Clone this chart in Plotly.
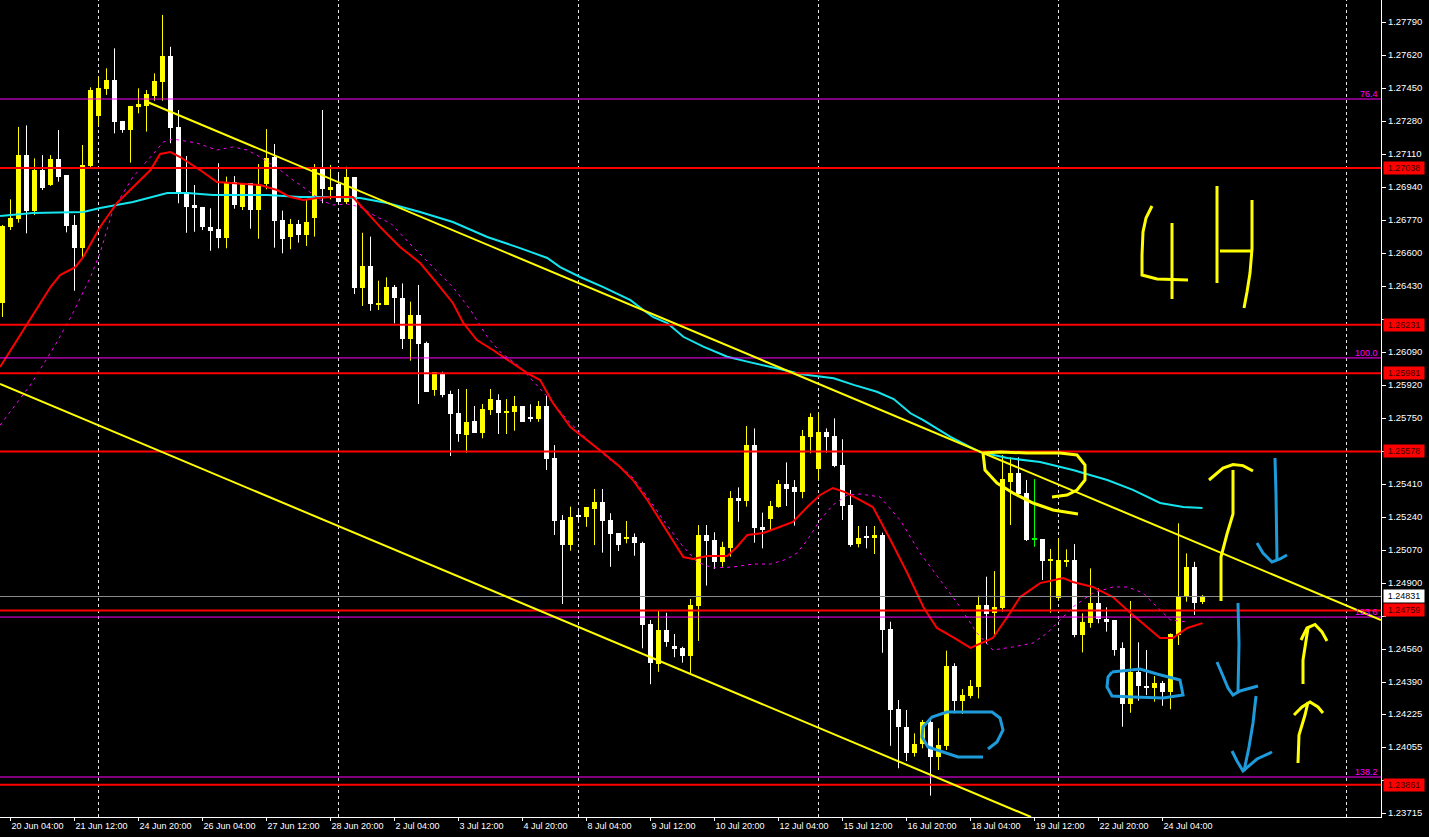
import plotly.graph_objects as go

# ---------------- data (4H candles) ----------------
open_ = [1.26345,1.26733,1.26776,1.27105,1.26819,1.27028,1.26951,1.27085,1.27002,1.26745,
         1.26628,1.27050,1.27308,1.27447,1.27492,1.27281,1.27236,1.27354,1.27358,1.27409,
         1.27483,1.27616,1.27250,1.26915,1.26848,1.26838,1.26733,1.26724,1.26679,1.26965,
         1.26839,1.26961,1.26822,1.26956,1.27097,1.26771,1.26685,1.26750,1.26693,1.26782,
         1.27037,1.26930,1.26958,1.26863,1.26992,1.26422,1.26534,1.26333,1.26333,1.26427,
         1.26370,1.26158,1.26281,1.26138,1.25895,1.25981,1.25874,1.25778,1.25663,1.25735,
         1.25675,1.25792,1.25843,1.25778,1.25783,1.25812,1.25752,1.25745,1.25812,1.25543,
         1.25225,1.25096,1.25247,1.25242,1.25282,1.25318,1.25225,1.25156,1.25127,1.25137,
         1.25107,1.24689,1.24483,1.24658,1.24576,1.24567,1.24526,1.24782,1.25148,1.25122,
         1.25010,1.25082,1.25340,1.25324,1.25611,1.25190,1.25229,1.25294,1.25409,1.25393,
         1.25371,1.25654,1.25486,1.25677,1.25658,1.25508,1.25302,1.25101,1.25139,1.25134,
         1.25148,1.24663,1.24251,1.24160,1.24023,1.24069,1.24183,1.24006,1.24061,1.24473,
         1.24294,1.24318,1.24363,1.24787,1.24744,1.24770,1.25419,1.25469,1.25363,1.25127,
         1.25126,1.25014,1.24825,1.25009,1.25019,1.24633,1.24696,1.24799,1.24713,1.24710,
         1.24564,1.24275,1.24443,1.24371,1.24358,1.24384,1.24339,1.24633,1.24830,1.24981,
         1.24804]
high = [1.26745,1.26877,1.27250,1.27258,1.27088,1.27105,1.27105,1.27234,1.27002,1.26796,
        1.27157,1.27454,1.27509,1.27552,1.27655,1.27281,1.27358,1.27449,1.27440,1.27526,
        1.27827,1.27663,1.27337,1.27100,1.26951,1.26838,1.26831,1.27063,1.26994,1.26997,
        1.26961,1.26961,1.27059,1.27239,1.27162,1.26819,1.26776,1.26771,1.26874,1.27059,
        1.27337,1.27054,1.27013,1.27045,1.26992,1.26705,1.26685,1.26458,1.26475,1.26436,
        1.26444,1.26350,1.26436,1.26144,1.25986,1.25989,1.25891,1.25900,1.25900,1.25812,
        1.25823,1.25900,1.25873,1.25848,1.25864,1.25812,1.25821,1.25838,1.25864,1.25611,
        1.25251,1.25294,1.25277,1.25290,1.25385,1.25385,1.25260,1.25156,1.25220,1.25156,
        1.25113,1.24710,1.24761,1.24747,1.24638,1.24572,1.24818,1.25199,1.25199,1.25162,
        1.25113,1.25374,1.25393,1.25709,1.25697,1.25263,1.25323,1.25431,1.25522,1.25431,
        1.25689,1.25775,1.25775,1.25697,1.25749,1.25641,1.25380,1.25194,1.25194,1.25194,
        1.25160,1.24701,1.24298,1.24246,1.24126,1.24195,1.24195,1.24152,1.24552,1.24487,
        1.24354,1.24401,1.24835,1.24933,1.24962,1.25560,1.25548,1.25548,1.25431,1.25436,
        1.25126,1.25076,1.25131,1.25074,1.25101,1.24744,1.24976,1.24873,1.24775,1.24710,
        1.24595,1.24808,1.24595,1.24555,1.24421,1.24396,1.24641,1.25208,1.25053,1.25010,
        1.24839]
low = [1.26271,1.26719,1.26757,1.26702,1.26796,1.26925,1.26946,1.26968,1.26707,1.26406,
       1.26573,1.27037,1.27255,1.27415,1.27217,1.27220,1.27066,1.27320,1.27226,1.27385,
       1.27385,1.27166,1.26857,1.26705,1.26710,1.26719,1.26612,1.26625,1.26625,1.26829,
       1.26822,1.26726,1.26674,1.26929,1.26628,1.26599,1.26620,1.26654,1.26637,1.26685,
       1.26857,1.26877,1.26857,1.26853,1.26389,1.26328,1.26303,1.26307,1.26333,1.26238,
       1.26106,1.26046,1.25823,1.25886,1.25865,1.25857,1.25555,1.25628,1.25572,1.25675,
       1.25646,1.25766,1.25668,1.25668,1.25685,1.25731,1.25731,1.25731,1.25483,1.25148,
       1.24792,1.25067,1.25215,1.25190,1.25096,1.25057,1.24984,1.25065,1.25105,1.25041,
       1.24564,1.24379,1.24443,1.24572,1.24518,1.24490,1.24430,1.24602,1.24887,1.24973,
       1.24984,1.25036,1.25216,1.25294,1.25108,1.25079,1.25173,1.25288,1.25297,1.25196,
       1.25337,1.25569,1.25431,1.25572,1.25497,1.25225,1.25087,1.25084,1.25079,1.25050,
       1.24541,1.24062,1.23946,1.23983,1.24006,1.24049,1.23805,1.23937,1.24040,1.24229,
       1.24226,1.24306,1.24306,1.24586,1.24633,1.24753,1.25199,1.25345,1.25117,1.25087,
       1.24916,1.24747,1.24813,1.24984,1.24621,1.24543,1.24670,1.24693,1.24650,1.24526,
       1.24160,1.24232,1.24294,1.24323,1.24289,1.24268,1.24250,1.24581,1.24804,1.24736,
       1.24792]
close = [1.26740,1.26779,1.27105,1.26819,1.27028,1.26937,1.27085,1.26994,1.26741,1.26628,
         1.27054,1.27440,1.27451,1.27492,1.27277,1.27234,1.27358,1.27368,1.27420,1.27487,
         1.27616,1.27246,1.26916,1.26839,1.26834,1.26736,1.26715,1.26679,1.26968,1.26849,
         1.26961,1.26822,1.26956,1.27090,1.26767,1.26674,1.26750,1.26695,1.26760,1.27037,
         1.26932,1.26939,1.26865,1.26992,1.26419,1.26534,1.26338,1.26345,1.26425,1.26367,
         1.26158,1.26281,1.26132,1.25886,1.25986,1.25869,1.25771,1.25668,1.25730,1.25675,
         1.25797,1.25848,1.25778,1.25787,1.25812,1.25731,1.25747,1.25812,1.25539,1.25221,
         1.25096,1.25242,1.25244,1.25290,1.25318,1.25220,1.25153,1.25096,1.25139,1.25108,
         1.24684,1.24490,1.24658,1.24598,1.24559,1.24526,1.24787,1.25148,1.25118,1.25010,
         1.25087,1.25340,1.25324,1.25611,1.25185,1.25175,1.25297,1.25409,1.25386,1.25371,
         1.25658,1.25754,1.25677,1.25654,1.25503,1.25297,1.25096,1.25134,1.25134,1.25148,
         1.24658,1.24246,1.24160,1.24023,1.24071,1.24183,1.24006,1.24066,1.24473,1.24294,
         1.24323,1.24370,1.24787,1.24741,1.24775,1.25436,1.25469,1.25359,1.25122,1.25127,
         1.25015,1.25023,1.25019,1.25019,1.24633,1.24698,1.24799,1.24713,1.24701,1.24555,
         1.24275,1.24443,1.24371,1.24358,1.24384,1.24340,1.24638,1.24830,1.24981,1.24796,
         1.24831]

time_labels = ["20 Jun 04:00", "21 Jun 12:00", "24 Jun 20:00", "26 Jun 04:00", "27 Jun 12:00",
               "28 Jun 20:00", "2 Jul 04:00", "3 Jul 12:00", "4 Jul 20:00", "8 Jul 04:00",
               "9 Jul 12:00", "10 Jul 20:00", "12 Jul 04:00", "15 Jul 12:00", "16 Jul 20:00",
               "18 Jul 04:00", "19 Jul 12:00", "22 Jul 20:00", "24 Jul 04:00"]
time_label_bar = [1, 9, 17, 25, 33, 41, 49, 57, 65, 73, 81, 89, 97, 105, 113, 121, 129, 137, 145]

price_ticks = [1.27790, 1.27620, 1.27450, 1.27280, 1.27110, 1.26940, 1.26770, 1.26600, 1.26430,
               1.26260, 1.26090, 1.25920, 1.25750, 1.25580, 1.25410, 1.25240, 1.25070, 1.24900,
               1.24730, 1.24560, 1.24390, 1.24225, 1.24055, 1.23885, 1.23715]
# tick labels hidden behind the price boxes on the right scale
hidden_ticks = [1.26260, 1.25580, 1.24730, 1.23885]

# moving averages (read at sample bars)
ma_red_bar = [-0.3,3.5,6.0,7.2,9.1,10.1,12.2,14.3,16.3,18.5,19.7,21.0,22.2,24.7,26.8,28.8,32.2,34.3,36.0,
              37.6,39.3,41.3,43.8,44.7,47.2,49.7,52.2,54.3,56.3,57.6,59.3,61.3,63.8,65.6,67.2,68.8,71.0,
              73.1,75.1,77.2,78.8,80.6,82.2,83.8,85.1,86.3,88.1,90.6,91.8,93.1,95.1,96.8,98.8,100.6,
              102.2,103.8,105.3,107.2,108.8,111.0,113.1,115.1,116.8,118.8,121.0,123.8,125.6,127.2,
              129.7,132.6,133.8,136.3,138.8,141.0,143.1,144.7,146.3,148.1,150.0]
ma_red_val = [1.26013,1.26261,1.26425,1.26487,1.26528,1.26580,1.26735,1.26858,1.26941,1.27028,1.27111,
              1.27121,1.27095,1.27028,1.26966,1.26961,1.26951,1.26925,1.26889,1.26874,1.26884,1.26889,
              1.26889,1.26848,1.26735,1.26632,1.26549,1.26446,1.26343,1.26240,1.26152,1.26101,1.26034,
              1.25982,1.25946,1.25828,1.25704,1.25637,1.25570,1.25498,1.25431,1.25328,1.25225,1.25122,
              1.25034,1.25024,1.25040,1.25040,1.25086,1.25148,1.25158,1.25184,1.25215,1.25292,1.25354,
              1.25390,1.25369,1.25328,1.25292,1.25122,1.24952,1.24777,1.24669,1.24622,1.24566,1.24617,
              1.24725,1.24828,1.24900,1.24926,1.24906,1.24880,1.24828,1.24746,1.24674,1.24617,1.24617,
              1.24669,1.24694]

ma_mag_bar = [-0.3,3.5,6.6,8.8,11.0,12.2,13.8,16.3,18.5,20.1,21.3,24.3,26.8,28.8,30.6,32.2,34.7,36.3,
              38.1,39.7,41.3,43.1,44.7,46.8,48.5,51.3,53.8,56.3,58.5,60.6,62.2,64.7,66.3,68.5,70.6,
              73.8,76.0,78.5,80.6,82.6,84.7,86.8,88.8,91.3,93.8,96.0,98.1,99.3,100.6,102.2,103.8,
              105.6,107.2,109.7,112.2,114.7,117.2,119.7,121.8,123.8,126.3,128.8,130.6,132.2,133.8,
              136.3,138.8,140.6,142.6,144.3,146.0,148.1]
ma_mag_val = [1.25714,1.25921,1.26127,1.26291,1.26477,1.26601,1.26822,1.26992,1.27095,1.27172,1.27188,
              1.27167,1.27131,1.27147,1.27131,1.27095,1.27028,1.26977,1.26925,1.26874,1.26848,1.26853,
              1.26838,1.26786,1.26755,1.26632,1.26528,1.26425,1.26307,1.26168,1.26091,1.26013,1.25941,
              1.25843,1.25740,1.25611,1.25534,1.25457,1.25344,1.25225,1.25107,1.25009,1.24978,1.24983,
              1.24998,1.24998,1.25024,1.25055,1.25122,1.25225,1.25302,1.25354,1.25359,1.25344,1.25225,
              1.25055,1.24916,1.24777,1.24643,1.24555,1.24571,1.24591,1.24643,1.24710,1.24777,1.24849,
              1.24880,1.24880,1.24849,1.24777,1.24710,1.24700]

ma_cyan_bar = [-0.3,3.8,10.1,12.2,16.3,20.6,23.1,26.3,33.1,37.2,41.3,44.7,48.1,52.2,56.3,58.5,60.6,
               64.7,66.8,68.1,69.7,72.2,75.1,78.5,80.1,81.3,83.1,85.1,87.6,90.6,93.1,96.0,98.1,99.7,
               101.8,103.9,106.4,109.3,111.4,113.5,115.1,118.5,122.2,125.6,129.7,133.8,138.1,141.3,
               144.7,147.6,150.0]
ma_cyan_val = [1.26791,1.26807,1.26812,1.26832,1.26863,1.26910,1.26910,1.26899,1.26899,1.26889,1.26889,
               1.26884,1.26858,1.26812,1.26760,1.26719,1.26683,1.26626,1.26595,1.26575,1.26528,1.26477,
               1.26425,1.26358,1.26307,1.26271,1.26240,1.26169,1.26118,1.26066,1.26041,1.26015,1.25994,
               1.25977,1.25967,1.25955,1.25921,1.25886,1.25848,1.25775,1.25740,1.25653,1.25575,1.25544,
               1.25524,1.25483,1.25431,1.25380,1.25313,1.25292,1.25287]

# horizontal levels
red_levels = [1.27038, 1.26231, 1.25981, 1.25578, 1.24759, 1.23861]
fib_levels = [1.27394, 1.26060, 1.24725, 1.23901]
fib_names = ["76.4", "100.0", "123.6", "138.2"]
bid_price = 1.24831

# trend lines (bar index, price)
tl_upper_bar = [18.03, 172.31]
tl_upper_val = [1.27380, 1.24710]
tl_lower_bar = [-0.31, 128.56]
tl_lower_val = [1.25926, 1.23695]

separator_bars = [12, 42, 72, 102, 132, 168]

# ---------------- figure ----------------
W, H = 1429, 837
ML, MR, MT, MB = 0, 48, 0, 20
PW, PH = W - ML - MR, H - MT - MB
Y_HI, Y_LO = 1.27904, 1.23695
X_LO, X_HI = -0.3125, 172.3125
FONT = "Liberation Sans, Arial, sans-serif"

YELLOW = "#FFFF00"
WHITE = "#FFFFFF"
DOJI = "#00FF00"

n = len(open_)
idx = list(range(n))
bases, heights, colors = [], [], []
for o, c in zip(open_, close):
    bases.append(min(o, c))
    heights.append(max(abs(c - o), 0.00005))
    colors.append(YELLOW if c > o else (WHITE if c < o else DOJI))

fig = go.Figure()

# wicks
for col in (YELLOW, WHITE, DOJI):
    xs, ys = [], []
    for i in idx:
        if colors[i] == col:
            xs += [i, i, None]
            ys += [low[i], high[i], None]
    if xs:
        fig.add_trace(go.Scatter(x=xs, y=ys, mode="lines", line=dict(color=col, width=1),
                                 hoverinfo="skip", showlegend=False))

# bodies
fig.add_trace(go.Bar(x=idx, y=heights, base=bases, width=0.62,
                     marker=dict(color=colors, line=dict(width=0)),
                     hoverinfo="skip", showlegend=False))

# moving averages
fig.add_trace(go.Scatter(x=ma_cyan_bar, y=ma_cyan_val, mode="lines",
                         line=dict(color="#14E6F0", width=2), hoverinfo="skip"))
fig.add_trace(go.Scatter(x=ma_mag_bar, y=ma_mag_val, mode="lines",
                         line=dict(color="#FF00FF", width=1, dash="3px,4px"), hoverinfo="skip"))
fig.add_trace(go.Scatter(x=ma_red_bar, y=ma_red_val, mode="lines",
                         line=dict(color="#FF0000", width=2), hoverinfo="skip"))

shapes = []
for b in separator_bars:
    shapes.append(dict(type="line", xref="x", yref="paper", x0=b, x1=b, y0=0, y1=1,
                       line=dict(color="#E8E8E8", width=1, dash="3px,3px"), layer="below"))
for lv in fib_levels:
    shapes.append(dict(type="line", xref="paper", yref="y", x0=0, x1=1, y0=lv, y1=lv,
                       line=dict(color="#FF00FF", width=1), layer="above"))
shapes.append(dict(type="line", xref="paper", yref="y", x0=0, x1=1, y0=bid_price, y1=bid_price,
                   line=dict(color="#8C8C8C", width=1), layer="above"))
for lv in red_levels:
    shapes.append(dict(type="line", xref="paper", yref="y", x0=0, x1=1, y0=lv, y1=lv,
                       line=dict(color="#FF0000", width=2), layer="above"))
shapes.append(dict(type="line", xref="x", yref="y", x0=tl_upper_bar[0], x1=tl_upper_bar[1],
                   y0=tl_upper_val[0], y1=tl_upper_val[1], line=dict(color=YELLOW, width=2), layer="above"))
shapes.append(dict(type="line", xref="x", yref="y", x0=tl_lower_bar[0], x1=tl_lower_bar[1],
                   y0=tl_lower_val[0], y1=tl_lower_val[1], line=dict(color=YELLOW, width=2), layer="above"))

# free-hand drawings (screen pixel strokes)
BLUE = "#1E9BDA"
strokes = [
    (YELLOW, [(1152,206),(1146,218),(1143,232),(1142,255),(1142,275),(1157,279),(1188,280)]),
    (YELLOW, [(1172,223),(1172,299)]),
    (YELLOW, [(1217,186),(1217,283)]),
    (YELLOW, [(1220,251),(1252,251)]),
    (YELLOW, [(1252,200),(1252,249),(1250,273),(1247,292),(1244,308)]),
    (YELLOW, [(1221,601),(1221,557),(1227,534),(1233,514),(1233,470)]),
    (YELLOW, [(1209,480),(1223,468),(1233,464.5),(1243,465.6),(1253,471)]),
    (BLUE, [(1275,458),(1276,494),(1277,561)]),
    (BLUE, [(1257,543),(1263,553),(1272,562),(1280,559),(1287,555)]),
    (BLUE, [(1238,603),(1239,644),(1238,692)]),
    (BLUE, [(1217,662),(1223,676),(1228,688),(1233,695),(1240,691),(1258,686)]),
    (BLUE, [(1256,696),(1253,723),(1249,747),(1244,771)]),
    (BLUE, [(1232,751),(1237,761),(1243,771),(1257,759),(1272,752)]),
    (YELLOW, [(1303,684),(1303,660),(1308,628)]),
    (YELLOW, [(1301,640),(1307,628),(1315,624.5),(1322,632),(1327,641)]),
    (YELLOW, [(1298,763),(1299,735),(1305,715),(1308,702)]),
    (YELLOW, [(1294,715),(1302,707),(1310,702),(1318,707),(1323,713)]),
    (BLUE, [(988,749),(997,742),(1003,730),(1000,718),(992,712),(947,712),(932,717),(923,727),
            (922,737),(928,747),(940,751),(958,757),(983,757)]),
    (BLUE, [(1112,672),(1140,669),(1157,674),(1180,680),(1183,695),(1163,698),(1133,697),
            (1112,696),(1107,687),(1108,677),(1112,672)]),
    (YELLOW, [(983,453),(985,470),(997,483),(1013,493),(1033,503),(1053,510),(1078,514)]),
    (YELLOW, [(983,453),(1000,452),(1027,453),(1060,453),(1077,455),(1085,465),(1085,480),
              (1077,490),(1067,495),(1052,497)]),
]
for col, pts in strokes:
    d = ""
    for k, (px, py) in enumerate(pts):
        d += ("M" if k == 0 else " L") + f"{(px - ML) / PW:.5f},{1 - (py - MT) / PH:.5f}"
    shapes.append(dict(type="path", xref="paper", yref="paper", path=d,
                       line=dict(color=col, width=3), layer="above"))

annotations = []
for nm, lv in zip(fib_names, fib_levels):
    annotations.append(dict(x=1, xref="paper", y=lv, yref="y", text=nm, showarrow=False,
                            xanchor="right", yanchor="bottom", xshift=-1, yshift=-2,
                            font=dict(color="#FF00FF", size=9, family=FONT)))
for lv in red_levels:
    annotations.append(dict(x=1, xref="paper", y=lv, yref="y", text=f"{lv:.5f}", showarrow=False,
                            xanchor="left", yanchor="middle", xshift=2, width=40, height=12,
                            bgcolor="#FF0000", borderpad=0,
                            font=dict(color="#3A0000", size=9, family=FONT)))
annotations.append(dict(x=1, xref="paper", y=bid_price, yref="y", text=f"{bid_price:.5f}",
                        showarrow=False, xanchor="left", yanchor="middle", xshift=2, width=40,
                        height=12, bgcolor="#FFFFFF", borderpad=0,
                        font=dict(color="#000000", size=9, family=FONT)))

fig.update_layout(
    width=W, height=H,
    margin=dict(l=ML, r=MR, t=MT, b=MB, pad=0),
    paper_bgcolor="#000000", plot_bgcolor="#000000",
    showlegend=False, barmode="overlay", bargap=0,
    shapes=shapes, annotations=annotations,
    xaxis=dict(range=[X_LO, X_HI], showgrid=False, zeroline=False,
               showline=True, linecolor="#FFFFFF", linewidth=1,
               tickmode="array", tickvals=time_label_bar, ticktext=time_labels,
               ticks="outside", ticklen=3, tickcolor="#FFFFFF",
               ticklabelposition="outside right",
               tickfont=dict(color="#FFFFFF", size=9, family=FONT)),
    yaxis=dict(range=[Y_LO, Y_HI], side="right", showgrid=False, zeroline=False,
               showline=True, linecolor="#FFFFFF", linewidth=1,
               tickmode="array", tickvals=price_ticks,
               ticktext=["" if v in hidden_ticks else f"{v:.5f}" for v in price_ticks],
               ticks="outside", ticklen=4, tickcolor="#FFFFFF",
               tickfont=dict(color="#FFFFFF", size=9.5, family=FONT)),
)

fig.write_html("out.html", config={"displayModeBar": False},
               post_script="document.body.style.margin='0px';document.body.style.background='#000';")
